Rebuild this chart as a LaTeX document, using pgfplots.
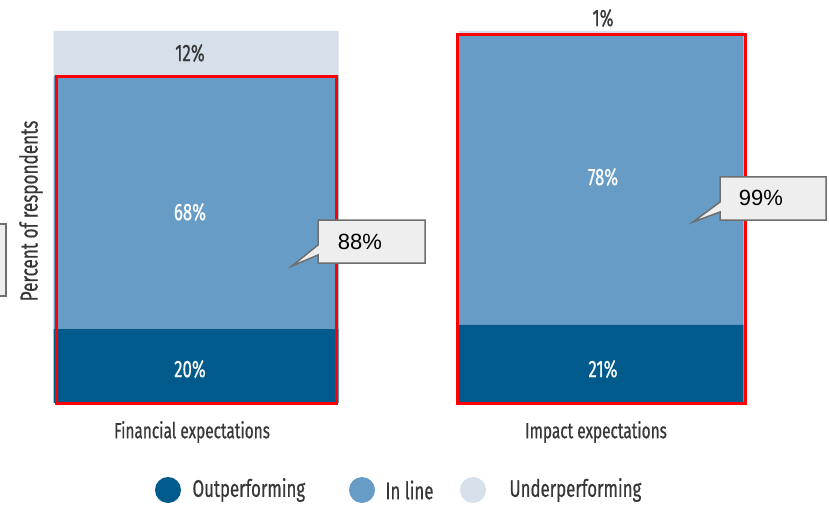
\documentclass[border=0pt]{standalone}
\usepackage{pgfplots}
\pgfplotsset{compat=1.18}
\usepackage{fontspec}
\setmainfont[FakeStretch=0.7,FakeBold=0.6]{Fira Sans}
\newfontfamily\arialf{Liberation Sans}
\definecolor{outc}{RGB}{0,90,140}
\definecolor{inlc}{RGB}{103,156,198}
\definecolor{undc}{RGB}{213,224,235}
\definecolor{txtc}{RGB}{55,55,55}
\definecolor{callf}{RGB}{238,238,238}
\definecolor{calld}{RGB}{110,110,110}
\begin{document}
\begin{tikzpicture}
\useasboundingbox (0,0) rectangle (829pt,504pt);
\begin{axis}[
  at={(0pt,0pt)}, anchor=south west,
  scale only axis, width=829pt, height=504pt,
  xmin=-0.48395, xmax=1.56296, ymin=-27.151, ymax=108.333,
  hide axis, clip=false,
  ybar stacked, bar width=0.7037,
]
\addplot[fill=outc, draw=none] coordinates {(0,20) (1,21)};
\addplot[fill=inlc, draw=none] coordinates {(0,68) (1,78)};
\addplot[fill=undc, draw=none] coordinates {(0,12) (1,1)};
\end{axis}
\begin{scope}[x=1pt,y=-1pt,shift={(0pt,504pt)}]
  % red highlight boxes (88% and 99% of respondents)
  \draw[red, line width=3pt] (56,403) rectangle (336,76.6);
  \draw[red, line width=3pt] (457,403) rectangle (745,34.7);
  % segment labels
  \node[text=white, font=\fontsize{24}{28}\selectfont] at (190,369) {20\%};
  \node[text=white, font=\fontsize{24}{28}\selectfont] at (190,212) {68\%};
  \node[text=txtc, font=\fontsize{24}{28}\selectfont] at (190,53) {12\%};
  \node[text=white, font=\fontsize{24}{28}\selectfont] at (603,369) {21\%};
  \node[text=white, font=\fontsize{24}{28}\selectfont] at (603,177) {78\%};
  \node[text=txtc, font=\fontsize{24}{28}\selectfont] at (603,18) {1\%};
  % y label
  \node[rotate=90, text=txtc, font=\fontsize{24.5}{28}\selectfont] at (31,211) {Percent of respondents};
  % category labels
  \node[text=txtc, font=\fontsize{22}{26}\selectfont] at (192,432) {Financial expectations};
  \node[text=txtc, font=\fontsize{22}{26}\selectfont] at (596,432) {Impact expectations};
  % legend
  \fill[outc] (168,490) circle (13);
  \node[anchor=west, text=txtc, font=\fontsize{24}{28}\selectfont] at (189,490) {Outperforming};
  \fill[inlc] (362,490) circle (13);
  \node[anchor=west, text=txtc, font=\fontsize{24}{28}\selectfont] at (382,490) {In line};
  \fill[undc] (473,490) circle (13);
  \node[anchor=west, text=txtc, font=\fontsize{24}{28}\selectfont] at (506,490) {Underperforming};
  % callouts
  \draw[fill=callf, draw=calld, line width=1.5pt]
    (318,220) -- (425,220) -- (425,263) -- (318,263) -- (318,255) -- (292,266) -- (318,245) -- cycle;
  \node[font=\arialf\fontsize{22}{26}\selectfont] at (360,242) {88\%};
  \draw[fill=callf, draw=calld, line width=1.5pt]
    (720,177) -- (826,177) -- (826,220) -- (720,220) -- (720,212) -- (693,222) -- (720,202) -- cycle;
  \node[font=\arialf\fontsize{22}{26}\selectfont] at (761,198) {99\%};
  \draw[fill=callf, draw=calld, line width=1.5pt] (-40,224) rectangle (6,296);
\end{scope}
\end{tikzpicture}
\end{document}
